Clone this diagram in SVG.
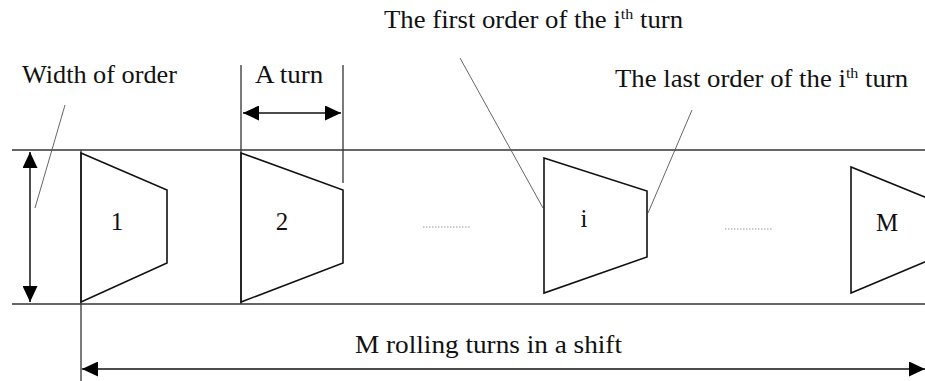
<svg xmlns="http://www.w3.org/2000/svg" width="925" height="381" viewBox="0 0 925 381">
<style>
text{font-family:"Liberation Serif","Times New Roman",serif;font-size:25px;fill:#111}
.sup{font-size:15px}
.band{stroke:#333;stroke-width:1.3;fill:none}
.trap{stroke:#111;stroke-width:1.6;fill:none;stroke-linejoin:miter}
.lead{stroke:#555;stroke-width:0.9;fill:none}
.arr{stroke:#111;stroke-width:1.5;fill:none}
.dots{stroke:#999;stroke-width:1;stroke-dasharray:1.5 1.5}
</style>
<defs>
<marker id="ah" viewBox="0 0 16 15" refX="16" refY="7.5" markerWidth="16" markerHeight="15" markerUnits="userSpaceOnUse" orient="auto-start-reverse">
<path d="M0,0 L16,7.5 L0,15 z" fill="#000"/>
</marker>
</defs>
<rect width="925" height="381" fill="#fff"/>
<g id="connectors">
<line class="band" x1="12" y1="150" x2="925" y2="150"/>
<line class="band" x1="12" y1="304" x2="925" y2="304"/>
<line class="arr" x1="30" y1="152" x2="30" y2="302" marker-start="url(#ah)" marker-end="url(#ah)"/>
<line class="band" x1="81" y1="150" x2="81" y2="381"/>
<line class="band" x1="241" y1="65" x2="241" y2="304"/>
<line class="band" x1="343" y1="65" x2="343" y2="183"/>
<line class="arr" x1="243" y1="113" x2="341" y2="113" marker-start="url(#ah)" marker-end="url(#ah)"/>
<line class="arr" x1="82" y1="369" x2="925" y2="369" marker-start="url(#ah)" marker-end="url(#ah)"/>
<line class="lead" x1="65" y1="105" x2="35" y2="208"/>
<line class="lead" x1="460" y1="58" x2="543" y2="208"/>
<line class="lead" x1="692" y1="110" x2="648" y2="213"/>
<line class="dots" x1="423" y1="227" x2="470" y2="227"/>
<line class="dots" x1="725" y1="229" x2="772" y2="229"/>
</g>
<g id="order1">
<polygon class="trap" points="81,153 167,190 167,263 81,302"/>
<text x="117" y="230" text-anchor="middle">1</text>
</g>
<g id="order2">
<polygon class="trap" points="241,153 343,190 343,263 241,302"/>
<text x="282" y="230" text-anchor="middle">2</text>
</g>
<g id="orderi">
<polygon class="trap" points="544,158 647,191 647,257 544,293"/>
<text x="584" y="227" text-anchor="middle">i</text>
</g>
<g id="orderM">
<polyline class="trap" points="927,198 851,167 851,293 927,261"/>
<text x="887" y="231" text-anchor="middle">M</text>
</g>
<g id="labels">
<text transform="translate(22,83) scale(1.05,1)">Width of order</text>
<text transform="translate(255,83) scale(1.08,1)">A turn</text>
<text transform="translate(384,28) scale(1.07,1)">The first order of the i<tspan class="sup" dy="-9">th</tspan><tspan dy="9"> turn</tspan></text>
<text transform="translate(615,87) scale(1.07,1)">The last order of the i<tspan class="sup" dy="-9">th</tspan><tspan dy="9"> turn</tspan></text>
<text transform="translate(355,353) scale(1.09,1)">M rolling turns in a shift</text>
</g>
</svg>
